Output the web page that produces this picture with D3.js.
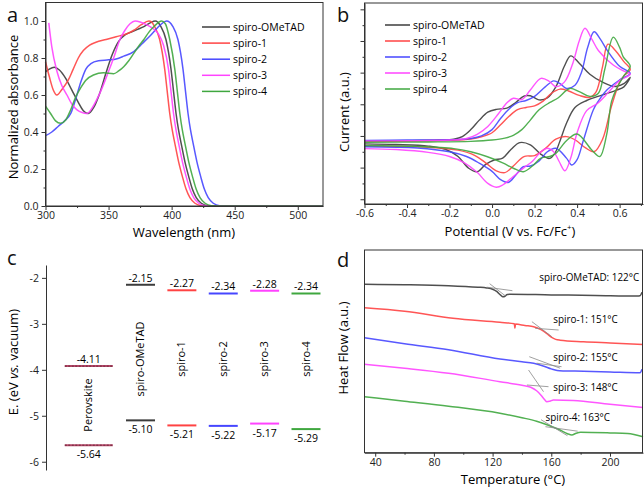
<!DOCTYPE html>
<html><head><meta charset="utf-8">
<script src="https://cdn.jsdelivr.net/npm/d3@7"></script>
<style>
body{margin:0;background:#fff;}
svg{display:block;font-family:"Open Sans",sans-serif;}
</style></head><body>
<svg id="c" width="644" height="489"></svg>
<script>
// ---------- shared ----------
const series = ["spiro-OMeTAD","spiro-1","spiro-2","spiro-3","spiro-4"];
const colors = ["#3c3c3c","#ff4343","#4646ff","#ff43ff","#3fa73f"];

// ---------- panel a : UV-vis ----------
const wlTicks = [300,350,400,450,500];
const wlMinor = [325,375,425,475];
const absTicks = [0,0.2,0.4,0.6,0.8,1.0];
const absMinor = [0.1,0.3,0.5,0.7,0.9];
const absOMeTAD = [[300,0.725],[303,0.74],[307,0.75],[311,0.735],[316,0.69],[321,0.625],[326,0.56],[330,0.515],[334,0.5],[338,0.53],[343,0.61],[348,0.72],[353,0.82],[358,0.89],[363,0.925],[368,0.94],[373,0.955],[378,0.97],[383,0.99],[387,1.0],[391.5,0.97],[395.5,0.9],[399.5,0.74],[401.5,0.62],[403.5,0.5],[405.5,0.41],[407.5,0.34],[410.5,0.24],[413.5,0.16],[416.5,0.09],[419.5,0.045],[423.5,0.015],[428.5,0.002],[440,0],[520,0]];
const absSpiro1 = [[300,0.78],[303,0.7],[306,0.63],[309,0.6],[313,0.63],[318,0.68],[322,0.74],[326,0.8],[330,0.84],[335,0.87],[340,0.885],[348,0.9],[356,0.915],[364,0.93],[370,0.95],[376,0.98],[382,1.0],[384,0.995],[386.5,0.97],[390.5,0.9],[394.5,0.74],[396.5,0.62],[398.5,0.5],[400.5,0.41],[402.5,0.34],[405.5,0.24],[408.5,0.16],[411.5,0.09],[414.5,0.045],[418.5,0.015],[423.5,0.002],[435,0],[520,0]];
const absSpiro2 = [[300,0.38],[305,0.4],[310,0.43],[315,0.46],[320,0.5],[324,0.58],[328,0.67],[332,0.74],[336,0.77],[342,0.785],[350,0.79],[356,0.795],[362,0.81],[370,0.835],[377,0.88],[383,0.92],[389,0.965],[393,0.99],[396,1.0],[401,0.97],[405,0.9],[409,0.74],[411,0.62],[413,0.5],[415,0.41],[417,0.34],[420,0.24],[423,0.16],[426,0.09],[429,0.045],[433,0.015],[438,0.002],[450,0],[520,0]];
const absSpiro3 = [[302.6,0.99],[305,0.86],[309,0.73],[313,0.65],[317,0.6],[321,0.55],[325,0.52],[329,0.505],[333,0.5],[337,0.53],[341,0.58],[345,0.64],[349,0.71],[354,0.8],[359,0.9],[363,0.95],[367,0.985],[371,1.0],[375,0.995],[380,0.98],[385,0.96],[389.5,0.93],[393.5,0.87],[397.5,0.74],[399.5,0.62],[401.5,0.5],[403.5,0.41],[405.5,0.34],[408.5,0.24],[411.5,0.16],[414.5,0.09],[417.5,0.045],[421.5,0.015],[426.5,0.002],[440,0],[520,0]];
const absSpiro4 = [[300,0.54],[304,0.5],[308,0.46],[312,0.447],[316,0.465],[320,0.52],[324,0.59],[328,0.64],[332,0.68],[338,0.708],[346,0.72],[354,0.715],[358,0.73],[362,0.753],[366,0.785],[370,0.825],[374,0.865],[378,0.9],[382,0.94],[386,0.97],[392,1.0],[395,0.985],[398.5,0.9],[402.5,0.74],[404.5,0.62],[406.5,0.5],[408.5,0.41],[410.5,0.34],[413.5,0.24],[416.5,0.16],[419.5,0.09],[422.5,0.045],[426.5,0.015],[431.5,0.002],[445,0],[520,0]];
const absData = [absOMeTAD,absSpiro1,absSpiro2,absSpiro3,absSpiro4];

// ---------- panel b : CV (forward branch then reverse branch) ----------
const potTicks = [-0.6,-0.4,-0.2,0,0.2,0.4,0.6];
const potMinor = [-0.5,-0.3,-0.1,0.1,0.3,0.5,0.7];
const curTicks = [0,1,2,3,4,5,6];
const curMinor = [0.5,1.5,2.5,3.5,4.5,5.5];
const cvOMeTAD = [[-0.6,1.84],[-0.4,1.85],[-0.25,1.87],[-0.18,1.9],[-0.14,1.98],[-0.1,2.2],[-0.06,2.5],[-0.02,2.75],[0.02,2.84],[0.07,2.88],[0.11,3.05],[0.15,3.26],[0.18,3.27],[0.22,3.14],[0.26,3.2],[0.3,3.55],[0.34,4.2],[0.37,4.53],[0.41,4.3],[0.46,3.95],[0.52,3.7],[0.58,3.56],[0.62,3.65],[0.65,3.85],
  [0.62,3.55],[0.586,3.45],[0.52,3.3],[0.445,3.12],[0.39,2.9],[0.35,2.4],[0.32,1.85],[0.295,1.45],[0.27,1.29],[0.23,1.42],[0.18,1.72],[0.13,1.79],[0.09,1.58],[0.05,1.3],[0.01,1.24],[-0.03,1.1],[-0.07,0.87],[-0.11,0.98],[-0.16,1.35],[-0.22,1.58],[-0.3,1.68],[-0.45,1.73],[-0.6,1.75]];
const cvSpiro1 = [[-0.6,1.82],[-0.4,1.84],[-0.2,1.86],[-0.1,1.9],[-0.05,1.97],[0,2.1],[0.04,2.35],[0.08,2.62],[0.12,2.83],[0.16,2.9],[0.2,2.95],[0.24,3.1],[0.28,3.35],[0.32,3.48],[0.36,3.42],[0.41,3.28],[0.46,3.22],[0.49,3.4],[0.52,4.2],[0.545,4.9],[0.58,4.7],[0.62,4.35],[0.65,4.1],
  [0.62,3.9],[0.6,3.7],[0.56,2.9],[0.52,1.9],[0.48,1.5],[0.44,1.62],[0.39,1.88],[0.35,1.98],[0.3,1.9],[0.25,1.6],[0.2,1.38],[0.15,1.35],[0.1,1.05],[0.06,0.84],[0.02,0.9],[-0.03,1.15],[-0.08,1.38],[-0.16,1.55],[-0.3,1.64],[-0.6,1.68]];
const cvSpiro2 = [[-0.6,1.86],[-0.4,1.87],[-0.2,1.88],[-0.1,1.92],[-0.05,2.0],[0,2.2],[0.04,2.55],[0.08,2.85],[0.12,3.05],[0.16,3.12],[0.2,3.25],[0.25,3.55],[0.29,3.74],[0.32,3.65],[0.35,3.5],[0.39,3.6],[0.42,4.0],[0.45,4.8],[0.48,5.29],[0.51,5.05],[0.54,4.72],[0.6,4.2],[0.65,3.98],
  [0.6,3.77],[0.54,3.45],[0.5,3.1],[0.476,2.82],[0.43,1.87],[0.4,1.25],[0.375,1.08],[0.35,1.3],[0.3,1.61],[0.26,1.5],[0.22,1.2],[0.18,1.05],[0.147,1.03],[0.11,0.75],[0.076,0.53],[0.04,0.62],[0,0.88],[-0.06,1.14],[-0.12,1.35],[-0.2,1.5],[-0.35,1.62],[-0.6,1.66]];
const cvSpiro3 = [[-0.6,1.84],[-0.4,1.85],[-0.2,1.87],[-0.12,1.92],[-0.07,2.05],[-0.02,2.3],[0.03,2.7],[0.07,3.05],[0.1,3.19],[0.14,3.15],[0.18,3.45],[0.23,3.82],[0.27,3.72],[0.3,3.56],[0.34,3.7],[0.38,4.3],[0.41,5.0],[0.437,5.4],[0.47,5.05],[0.5,4.7],[0.57,4.24],[0.62,4.05],[0.65,3.95],
  [0.6,3.75],[0.55,3.4],[0.5,3.05],[0.445,2.8],[0.4,2.1],[0.37,1.3],[0.343,0.9],[0.315,1.2],[0.29,1.5],[0.26,1.61],[0.23,1.5],[0.19,1.2],[0.15,1.0],[0.1,0.72],[0.05,0.45],[0.02,0.38],[-0.02,0.5],[-0.07,0.85],[-0.13,1.15],[-0.2,1.35],[-0.3,1.48],[-0.45,1.57],[-0.6,1.6]];
const cvSpiro4 = [[-0.6,1.8],[-0.3,1.81],[-0.1,1.83],[0,1.87],[0.06,1.93],[0.1,2.02],[0.14,2.2],[0.18,2.5],[0.22,2.82],[0.27,3.05],[0.31,3.2],[0.366,3.5],[0.41,3.4],[0.46,3.25],[0.5,3.35],[0.53,4.1],[0.57,5.12],[0.6,4.8],[0.617,4.5],[0.65,4.2],
  [0.62,3.9],[0.586,3.5],[0.562,3.09],[0.539,2.04],[0.507,1.35],[0.47,1.55],[0.4,2.06],[0.35,1.85],[0.3,1.45],[0.272,1.35],[0.23,1.3],[0.19,1.05],[0.147,0.87],[0.1,0.98],[0.05,1.15],[-0.025,1.35],[-0.1,1.5],[-0.18,1.6],[-0.35,1.67],[-0.6,1.7]];
const cvData = [cvOMeTAD,cvSpiro1,cvSpiro2,cvSpiro3,cvSpiro4];

// ---------- panel c : energy levels ----------
const levelCats = ["Perovskite","spiro-OMeTAD","spiro-1","spiro-2","spiro-3","spiro-4"];
const lumoLevels = [-3.92,-2.15,-2.27,-2.34,-2.28,-2.34];
const lumoLabels = ["-4.11","-2.15","-2.27","-2.34","-2.28","-2.34"];
const homoLevels = [-5.64,-5.10,-5.21,-5.22,-5.17,-5.29];
const homoLabels = ["-5.64","-5.10","-5.21","-5.22","-5.17","-5.29"];
const energyTicks = [-2,-3,-4,-5,-6];

// ---------- panel d : DSC ----------
const tempTicks = [40,80,120,160,200];
const tempMinor = [60,100,140,180];
const dscOMeTAD = [[32.7,168.4],[60,168],[90,167],[110,165.5],[116,164.8],[120,163.5],[123,161],[125.5,157.5],[127,156],[128.5,156.5],[130,158.3],[132,158.5],[160,157.8],[190,157.3],[218.5,156.7],[220.5,157],[221.8,160.5]];
const dscSpiro1 = [[32.7,145],[60,141.5],[93,134.4],[125,130.4],[134.8,129],[135.2,124.5],[135.6,128.6],[142,127.2],[148,126],[153,123],[157,119],[160,115.5],[163,113.3],[166,112.5],[182,111],[200,109.8],[222.5,108.3]];
const dscSpiro2 = [[32.7,115],[60,109],[90,103],[125,93.7],[140,91],[148,89.4],[155,86.5],[160,83.8],[164,82.2],[168,81.8],[182,81.5],[200,80.8],[220.5,80],[221.8,83.5]];
const dscSpiro3 = [[32.7,88.4],[60,84.5],[90,79.5],[125,71],[140,67.5],[146,65.5],[150,62],[153,57.5],[155.5,53],[157,51],[159,51.5],[161.5,52.7],[175,52.3],[200,48.5],[222.5,45.3]];
const dscSpiro4 = [[32.7,56],[60,51.5],[90,46.5],[125,39.4],[140,35],[150,31.5],[158,27.5],[166,22.7],[171,19],[174,17.7],[177,19.5],[180,20.4],[200,19.8],[212,19.2],[222.5,16]];
const dscData = [dscOMeTAD,dscSpiro1,dscSpiro2,dscSpiro3,dscSpiro4];
const tgTemps = ["122°C","151°C","155°C","148°C","163°C"];
const tgTangents = [
  [[[116,165.5],[133.5,162]],[[118,169],[129,156.5]]],
  [[[146.8,131],[160.4,116]],[[149,124.4],[165,122.7]]],
  [[[145,96],[166,84.5]],[[150,89.5],[167,86]]],
  [[[144.5,82.7],[154.7,61]],[[143.4,67.7],[158.1,66]]],
  [[[153,33],[171,17]],[[156,26],[178,21.5]]]
];
const tgLabelAt = [[151.8,176],[161.3,133.4],[161.3,95.4],[161.3,66],[156,36]];

// =============== drawing ===============
const svg = d3.select("#c");
const AX = "#333";
const FS_TICK = 10.5, FS_TITLE = 13, FS_LEG = 10.5;

function styleAxis(g){
  g.selectAll("path.domain").attr("stroke",AX);
  g.selectAll(".tick line").attr("stroke",AX);
  g.selectAll(".tick text").attr("fill","#222").attr("font-size",FS_TICK).attr("font-family","Open Sans");
}
function frame(x0,y0,x1,y1){
  svg.append("rect").attr("x",x0).attr("y",y0).attr("width",x1-x0).attr("height",y1-y0)
    .attr("fill","none").attr("stroke",AX).attr("stroke-width",1);
}
function letter(t,x,y){
  svg.append("text").attr("x",x).attr("y",y).attr("font-size",20).attr("fill","#111").text(t);
}
function minorAxis(axisFn, scale, vals, transform){
  svg.append("g").attr("transform",transform)
    .call(axisFn(scale).tickValues(vals).tickSize(2).tickSizeOuter(0).tickFormat(""))
    .call(g=>{g.select(".domain").remove(); g.selectAll(".tick line").attr("stroke",AX);});
}

// ---- panel a ----
{
  const x = d3.scaleLinear([300,520],[45.5,323]);
  const y = d3.scaleLinear([0,1.1],[206,2.5]);
  const line = d3.line().x(d=>x(d[0])).y(d=>y(d[1])).curve(d3.curveMonotoneX);
  const gp = svg.append("g");
  absData.forEach((d,i)=>gp.append("path").attr("d",line(d)).attr("fill","none")
    .attr("stroke",colors[i]).attr("stroke-width",1.5).attr("stroke-opacity",0.9));
  frame(x.range()[0],y.range()[1],x.range()[1],y.range()[0]);
  svg.append("g").attr("transform",`translate(0,206)`)
    .call(d3.axisBottom(x).tickValues(wlTicks).tickSize(4).tickSizeOuter(0).tickPadding(2)).call(styleAxis);
  minorAxis(d3.axisBottom,x,wlMinor,`translate(0,206)`);
  svg.append("g").attr("transform",`translate(45.5,0)`)
    .call(d3.axisLeft(y).tickValues(absTicks).tickSize(4).tickSizeOuter(0).tickPadding(3).tickFormat(d3.format(".1f"))).call(styleAxis);
  minorAxis(d3.axisLeft,y,absMinor,`translate(45.5,0)`);
  svg.append("text").attr("x",184).attr("y",237).attr("text-anchor","middle").attr("font-size",FS_TITLE).text("Wavelength (nm)");
  svg.append("text").attr("transform","translate(13,107) rotate(-90)").attr("text-anchor","middle")
    .attr("dominant-baseline","central").attr("font-size",FS_TITLE).text("Normalized absorbance");
  letter("a",7,22);
  series.forEach((s,i)=>{
    const yy = 27 + i*16.1;
    svg.append("line").attr("x1",202).attr("x2",230).attr("y1",yy).attr("y2",yy).attr("stroke",colors[i]).attr("stroke-width",1.5);
    svg.append("text").attr("x",233).attr("y",yy).attr("dominant-baseline","central").attr("font-size",FS_LEG).text(s);
  });
}

// ---- panel b ----
{
  const x = d3.scaleLinear([-0.6,0.71],[364.5,643]);
  const y = d3.scaleLinear([-0.15,6.2],[204,3]);
  const line = d3.line().x(d=>x(d[0])).y(d=>y(d[1])).curve(d3.curveCatmullRom.alpha(0.5));
  const gp = svg.append("g");
  cvData.forEach((d,i)=>gp.append("path").attr("d",line(d)).attr("fill","none")
    .attr("stroke",colors[i]).attr("stroke-width",1.4).attr("stroke-opacity",0.9));
  frame(x.range()[0],y.range()[1],x.range()[1]-0.5,y.range()[0]);
  svg.append("g").attr("transform",`translate(0,204)`)
    .call(d3.axisBottom(x).tickValues(potTicks).tickSize(4).tickSizeOuter(0).tickPadding(2).tickFormat(d=>d3.format(".1f")(d).replace("−","-"))).call(styleAxis);
  minorAxis(d3.axisBottom,x,potMinor,`translate(0,204)`);
  svg.append("g").attr("transform",`translate(364.5,0)`)
    .call(d3.axisLeft(y).tickValues(curTicks).tickSize(4).tickSizeOuter(0).tickFormat("")).call(styleAxis);
  minorAxis(d3.axisLeft,y,curMinor,`translate(364.5,0)`);
  const t = svg.append("text").attr("x",510).attr("y",236).attr("text-anchor","middle").attr("font-size",FS_TITLE);
  t.append("tspan").text("Potential (V vs. Fc/Fc");
  t.append("tspan").attr("font-size",8).attr("dy",-6).text("+");
  t.append("tspan").attr("dy",6).text(")");
  svg.append("text").attr("transform","translate(344,112) rotate(-90)").attr("text-anchor","middle")
    .attr("dominant-baseline","central").attr("font-size",FS_TITLE).text("Current (a.u.)");
  letter("b",337,22);
  series.forEach((s,i)=>{
    const yy = 25 + i*16;
    svg.append("line").attr("x1",385).attr("x2",410).attr("y1",yy).attr("y2",yy).attr("stroke",colors[i]).attr("stroke-width",1.5);
    svg.append("text").attr("x",413).attr("y",yy).attr("dominant-baseline","central").attr("font-size",FS_LEG).text(s);
  });
}

// ---- panel c ----
{
  const y = d3.scaleLinear([-6.18,-1.72],[470,265]);
  const xs = d3.scalePoint().domain(series).range([140.5,306]);
  const cx = c => c==="Perovskite" ? xs(series[0]) - 1.25*xs.step() : xs(c);
  const hw = c => c==="Perovskite" ? 24 : 14.5;
  const col = (c,i) => c==="Perovskite" ? "#b8486a" : colors[i-1];
  svg.append("g").attr("transform","translate(46,0)")
    .call(d3.axisLeft(y).tickValues(energyTicks).tickSize(4).tickSizeOuter(0).tickPadding(3).tickFormat(d=>String(d))).call(styleAxis);
  levelCats.forEach((c,i)=>{
    [[lumoLevels[i],lumoLabels[i],-7],[homoLevels[i],homoLabels[i],9]].forEach(([v,lab,dy])=>{
      svg.append("line").attr("x1",cx(c)-hw(c)).attr("x2",cx(c)+hw(c)).attr("y1",y(v)).attr("y2",y(v))
        .attr("stroke",col(c,i)).attr("stroke-width",2);
      if(c==="Perovskite"){
        svg.append("line").attr("x1",cx(c)-hw(c)).attr("x2",cx(c)+hw(c)).attr("y1",y(v)).attr("y2",y(v))
          .attr("stroke","#6a2a3a").attr("stroke-width",1).attr("stroke-dasharray","2,1.5");
      }
      svg.append("text").attr("x",cx(c)).attr("y",y(v)+dy).attr("text-anchor","middle")
        .attr("dominant-baseline","central").attr("font-size",10.5).text(lab);
    });
    const ly = c==="Perovskite" ? 405 : 359;
    svg.append("text").attr("transform",`translate(${cx(c)-1},${ly}) rotate(-90)`).attr("text-anchor","middle")
      .attr("dominant-baseline","central").attr("font-size",11).text(c);
  });
  const t = svg.append("text").attr("transform","translate(13,362) rotate(-90)").attr("text-anchor","middle")
    .attr("dominant-baseline","central").attr("font-size",FS_TITLE);
  t.append("tspan").text("E. (eV ");
  t.append("tspan").attr("font-style","italic").text("vs.");
  t.append("tspan").text(" vacuum)");
  letter("c",7,265);
}

// ---- panel d ----
{
  const x = d3.scaleLinear([32.7,222.5],[364.5,643]);
  const y = d3.scaleLinear([0,202.7],[452.7,250]);
  const line = d3.line().x(d=>x(d[0])).y(d=>y(d[1])).curve(d3.curveMonotoneX);
  const gp = svg.append("g");
  dscData.forEach((d,i)=>gp.append("path").attr("d",line(d)).attr("fill","none")
    .attr("stroke",colors[i]).attr("stroke-width",1.5).attr("stroke-opacity",0.9));
  tgTangents.forEach(pair=>pair.forEach(seg=>{
    svg.append("path").attr("d",d3.line().x(d=>x(d[0])).y(d=>y(d[1]))(seg)).attr("stroke","#888").attr("stroke-width",0.8).attr("fill","none");
  }));
  series.forEach((s,i)=>{
    svg.append("text").attr("x",x(tgLabelAt[i][0])).attr("y",y(tgLabelAt[i][1])).attr("dominant-baseline","central")
      .attr("font-size",9.9).text(`${s}: ${tgTemps[i]}`);
  });
  frame(x.range()[0],y.range()[1],x.range()[1]-0.5,y.range()[0]);
  svg.append("g").attr("transform",`translate(0,452.7)`)
    .call(d3.axisBottom(x).tickValues(tempTicks).tickSize(4).tickSizeOuter(0).tickPadding(2)).call(styleAxis);
  minorAxis(d3.axisBottom,x,tempMinor,`translate(0,452.7)`);
  svg.append("text").attr("x",513).attr("y",484).attr("text-anchor","middle").attr("font-size",FS_TITLE).text("Temperature (°C)");
  svg.append("text").attr("transform","translate(343,348) rotate(-90)").attr("text-anchor","middle")
    .attr("dominant-baseline","central").attr("font-size",FS_TITLE).text("Heat Flow (a.u.)");
  letter("d",337,267);
}
</script>
</body></html>
